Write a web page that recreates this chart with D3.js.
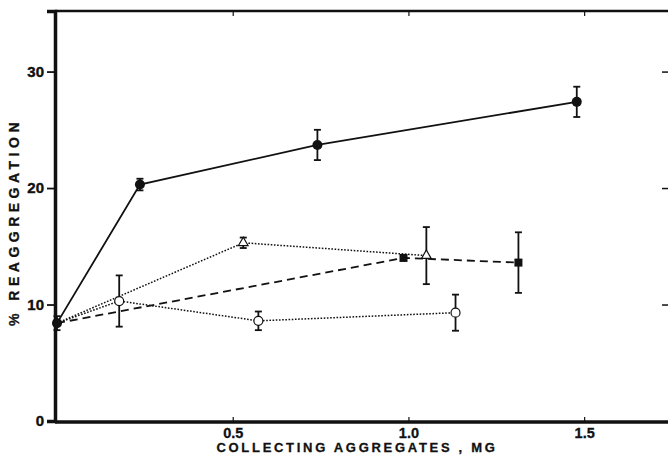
<!DOCTYPE html>
<html>
<head>
<meta charset="utf-8">
<script src="https://cdn.jsdelivr.net/npm/d3@7"></script>
<style>
  body { margin: 0; background: #fff; }
  svg { display: block; }
  .lbl { font-family: "Liberation Sans", Arial, sans-serif; font-weight: bold; fill: #111; }
</style>
</head>
<body>
<div id="chart"></div>
<script>
// tick values
var xTicks = [0.5, 1.0, 1.5];
var yTicks = [0, 10, 20, 30];
var rightTicks = [10, 20, 30];

// filled circles, solid line
var solidX = [0, 0.236, 0.741, 1.479];
var solidY = [8.4, 20.3, 23.7, 27.4];
var solidErr = [0.6, 0.5, 1.3, 1.3];

// open triangles, dotted line
var triX = [0, 0.53, 1.051];
var triY = [8.4, 15.3, 14.2];
var triErr = [0, 0.45, 2.45];

// open circles, dotted line
var openX = [0, 0.177, 0.573, 1.134];
var openY = [8.4, 10.3, 8.6, 9.3];
var openErr = [0, 2.2, 0.8, 1.55];

// filled squares, dashed line
var squareX = [0, 0.986, 1.313];
var squareY = [8.4, 14.0, 13.6];
var squareErr = [0, 0.15, 2.6];

var W = 668, H = 464;
var svg = d3.select("#chart").append("svg").attr("width", W).attr("height", H);

var x = d3.scaleLinear().domain([0, 1.75]).range([57, 672]);
var y = d3.scaleLinear().domain([0, 35.2]).range([421, 11]);

var zip = function(xs, ys, es){
    return xs.map(function(v, i){ return {x: v, y: ys[i], e: es[i]}; });
};

var series = [
    {pts: zip(solidX, solidY, solidErr), dash: null, width: 1.8, marker: "fcircle"},
    {pts: zip(triX, triY, triErr), dash: "1.6,1.6", width: 1.5, marker: "tri"},
    {pts: zip(openX, openY, openErr), dash: "1.6,1.6", width: 1.5, marker: "ocircle"},
    {pts: zip(squareX, squareY, squareErr), dash: "8,5", width: 1.8, marker: "square"}
];

var line = d3.line().x(function(d){ return x(d.x); }).y(function(d){ return y(d.y); });

// frame top
svg.append("line").attr("x1", 55).attr("x2", 672).attr("y1", 11).attr("y2", 11)
   .attr("stroke", "#111").attr("stroke-width", 2.5);

// lines
series.forEach(function(s){
    svg.append("path").datum(s.pts)
       .attr("d", line)
       .attr("fill", "none")
       .attr("stroke", "#111")
       .attr("stroke-width", s.width)
       .attr("stroke-dasharray", s.dash);
});

// error bars
series.forEach(function(s){
    var g = svg.append("g");
    s.pts.forEach(function(d, i){
        if (d.e <= 0) return;
        if (i === 0 && s.marker !== "fcircle") return;
        var cx = x(d.x);
        g.append("line").attr("x1", cx).attr("x2", cx)
         .attr("y1", y(d.y + d.e)).attr("y2", y(d.y - d.e))
         .attr("stroke", "#111").attr("stroke-width", 1.8);
        [d.y + d.e, d.y - d.e].forEach(function(v){
            g.append("line").attr("x1", cx - 3.5).attr("x2", cx + 3.5)
             .attr("y1", y(v)).attr("y2", y(v))
             .attr("stroke", "#111").attr("stroke-width", 1.8);
        });
    });
});

// markers
series.forEach(function(s){
    var g = svg.append("g");
    s.pts.forEach(function(d, i){
        if (i === 0 && s.marker !== "fcircle") return;
        var cx = x(d.x), cy = y(d.y);
        if (s.marker === "fcircle") {
            g.append("circle").attr("cx", cx).attr("cy", cy).attr("r", 5).attr("fill", "#111");
        } else if (s.marker === "ocircle") {
            g.append("circle").attr("cx", cx).attr("cy", cy).attr("r", 4.5)
             .attr("fill", "#fff").attr("stroke", "#111").attr("stroke-width", 1.2);
        } else if (s.marker === "tri") {
            g.append("path")
             .attr("d", d3.symbol().type(d3.symbolTriangle).size(40))
             .attr("transform", "translate(" + cx + "," + cy + ")")
             .attr("fill", "#fff").attr("stroke", "#111").attr("stroke-width", 1.2);
        } else if (s.marker === "square") {
            g.append("rect").attr("x", cx - 4).attr("y", cy - 4).attr("width", 8).attr("height", 8)
             .attr("fill", "#111");
        }
    });
});

// left axis
var yAxis = svg.append("g").attr("transform", "translate(55,0)")
    .call(d3.axisLeft(y).tickValues(yTicks).tickSize(8).tickPadding(3).tickFormat(d3.format("d")));
yAxis.select(".domain").attr("stroke", "#111").attr("stroke-width", 3.5);
yAxis.selectAll(".tick line").attr("stroke", "#111").attr("stroke-width", 1.8);
yAxis.selectAll(".tick").filter(function(d){ return d === 0; }).select("line").remove();
yAxis.selectAll(".tick text").attr("class", "lbl").style("font-size", "15px")
     .style("stroke", "#111").style("stroke-width", 0.4);

// bottom axis
var xAxis = svg.append("g").attr("transform", "translate(0,422)")
    .call(d3.axisBottom(x).tickValues(xTicks).tickSize(-5).tickPadding(6).tickFormat(d3.format(".1f")));
xAxis.select(".domain").attr("d", "M55,0H672").attr("stroke", "#111").attr("stroke-width", 3.5);
xAxis.selectAll(".tick line").attr("stroke", "#111").attr("stroke-width", 1.2);
xAxis.selectAll(".tick text").attr("class", "lbl").style("font-size", "14.5px")
     .style("stroke", "#111").style("stroke-width", 0.3);

// top ticks
var topAxis = svg.append("g").attr("transform", "translate(0,11)")
    .call(d3.axisTop(x).tickValues(xTicks).tickSize(-5).tickFormat(""));
topAxis.select(".domain").remove();
topAxis.selectAll(".tick line").attr("stroke", "#111").attr("stroke-width", 1.2);

// right ticks
var rightAxis = svg.append("g").attr("transform", "translate(669,0)")
    .call(d3.axisRight(y).tickValues(rightTicks).tickSize(-7).tickFormat(""));
rightAxis.select(".domain").remove();
rightAxis.selectAll(".tick line").attr("stroke", "#111").attr("stroke-width", 1.5);

// axis titles
svg.append("text").attr("class", "lbl")
   .attr("x", 357).attr("y", 452)
   .attr("text-anchor", "middle")
   .style("font-size", "13px").style("letter-spacing", "2.7px")
   .style("stroke", "#111").style("stroke-width", 0.3)
   .text("COLLECTING AGGREGATES , MG");

svg.append("text").attr("class", "lbl")
   .attr("transform", "translate(19,222) rotate(-90)")
   .attr("text-anchor", "middle")
   .style("font-size", "14px").style("letter-spacing", "4.5px")
   .style("stroke", "#111").style("stroke-width", 0.3)
   .text("% REAGGREGATION");
</script>
</body>
</html>
